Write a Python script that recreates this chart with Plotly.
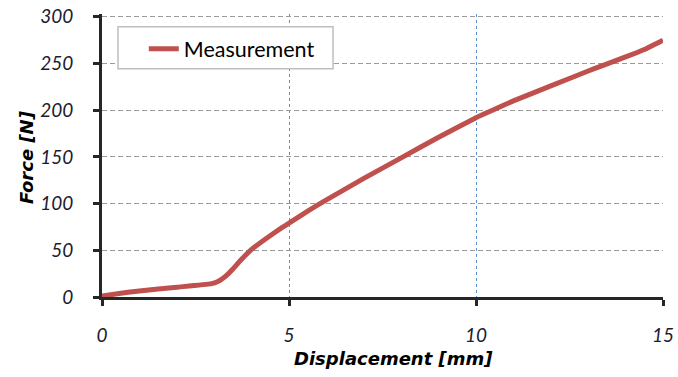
import plotly.graph_objects as go

displacement = [0, 0.5, 1.0, 2.0, 2.9, 3.1, 3.3, 3.5, 3.7, 4.0, 4.4, 4.8, 5.0, 5.5, 6.0,
                7.0, 8.0, 9.0, 10.0, 10.5, 11.0, 12.0, 13.0, 13.4, 14.0, 14.5, 15.0]
force = [1, 4, 6.5, 10.5, 14, 16.5, 22, 30, 39, 51, 63, 74, 79, 92, 104,
         127, 149, 171, 192, 201, 210, 226, 242, 248, 257, 265, 275]
x_ticks = [0, 5, 10, 15]
y_ticks = [0, 50, 100, 150, 200, 250, 300]
x_title = "Displacement [mm]"
y_title = "Force [N]"

fig = go.Figure()
fig.add_trace(go.Scatter(
    x=displacement, y=force, mode="lines", name="Measurement",
    line=dict(color="#C0504D", width=5, shape="spline", smoothing=0.3),
))

tickfont = dict(family="Lato", size=19, color="#1c1c30", style="italic")
titlefont = dict(family="DejaVu Sans", size=18, color="#000000", weight="bold", style="italic")

# plot area: 0..300 N spans 280 px; a little headroom so the 300 grid line is drawn
y_top = 303
plot_h = 280 * y_top / 300
top_margin = 377 - 80 - plot_h

def py(frac_px_from_bottom):
    return frac_px_from_bottom / plot_h

# legend frame (pixel box 118..333 x 27..69 in the page)
fig.add_shape(type="rect", xref="paper", yref="paper",
              x0=0.0285, x1=0.4118, y0=py(297 - 69), y1=py(297 - 27),
              line=dict(color="#BFBFBF", width=1.5), fillcolor="white", layer="above")

# axis titles
fig.add_annotation(text=x_title, xref="paper", yref="paper", x=0.519, y=0,
                   xanchor="center", yanchor="middle", yshift=-61,
                   showarrow=False, font=titlefont)
fig.add_annotation(text=y_title, xref="paper", yref="paper", x=0, y=py(140),
                   xanchor="center", yanchor="middle", xshift=-75, textangle=-90,
                   showarrow=False, font=titlefont)

fig.update_layout(
    width=678, height=377,
    margin=dict(l=102, r=15, t=top_margin, b=80, autoexpand=False),
    paper_bgcolor="white", plot_bgcolor="white",
    showlegend=True,
    legend=dict(
        x=0.0745, y=py(297 - 49), xanchor="left", yanchor="middle",
        bgcolor="rgba(0,0,0,0)", borderwidth=0,
        font=dict(family="Lato", size=21.5, color="#000000"),
    ),
    xaxis=dict(
        range=[0, 15], tickvals=x_ticks, ticktext=[str(v) for v in x_ticks],
        showline=True, linecolor="#262626", linewidth=3,
        ticks="outside", ticklen=6, tickwidth=3, tickcolor="#262626",
        showgrid=True, gridcolor="#5B8ED6", griddash="3px,3px", gridwidth=1,
        zeroline=False, tickfont=tickfont, ticklabelstandoff=13, automargin=False,
        ticklabeloverflow="allow",
    ),
    yaxis=dict(
        range=[0, y_top], tickvals=y_ticks, ticktext=[str(v) for v in y_ticks],
        showline=True, linecolor="#262626", linewidth=3,
        ticks="outside", ticklen=6, tickwidth=3, tickcolor="#262626",
        showgrid=True, gridcolor="#9A9A9A", griddash="5px,3px", gridwidth=1,
        zeroline=False, tickfont=tickfont, ticklabelstandoff=16, automargin=False,
        ticklabeloverflow="allow",
    ),
)

fig.write_html("out.html", post_script="document.body.style.margin='0px';",
               config={"displayModeBar": False})
